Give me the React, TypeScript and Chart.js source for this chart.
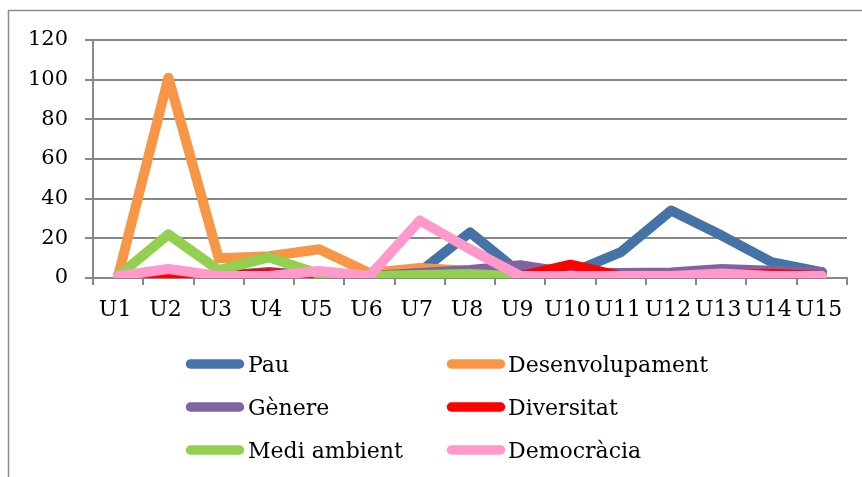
import React, { useEffect, useRef } from 'react';
import { Chart, registerables } from 'chart.js';

Chart.register(...registerables);

// ---- data ----
const categories = ['U1', 'U2', 'U3', 'U4', 'U5', 'U6', 'U7', 'U8', 'U9', 'U10', 'U11', 'U12', 'U13', 'U14', 'U15'];
const seriesNames = ['Pau', 'Desenvolupament', 'Gènere', 'Diversitat', 'Medi ambient', 'Democràcia'];
const pau = [1, 1, 1, 3, 1, 1, 3, 23, 2.5, 2.5, 13, 34, 21.5, 8, 3];
const desenvolupament = [1, 101, 10, 11, 14.5, 2.5, 5, 3.5, 1, 1, 1, 1, 1, 1, 1];
const genere = [1, 1, 1, 1, 1, 1, 2.5, 4, 6.5, 2.5, 2.5, 2.8, 4.6, 3.6, 3];
const diversitat = [1, 1.5, 1, 2.4, 1, 1, 1, 1, 1, 6.7, 1, 1, 1.5, 2, 1];
const mediAmbient = [1, 22, 4, 10.4, 2, 1, 1.5, 2, 0.8, 1, 1, 1, 1, 1, 1];
const democracia = [1, 4.5, 1, 1, 3.5, 1, 29, 14.5, 1, 1, 1, 1, 2.3, 1, 1];
const seriesValues = [pau, desenvolupament, genere, diversitat, mediAmbient, democracia];
const seriesColors = ['#4572A7', '#F79646', '#8064A2', '#FF0000', '#92D050', '#FF99CC'];
const yMin = 0;
const yMax = 120;
const yStep = 20;

// ---- styles ----
const FONT_FAMILY = '"DejaVu Serif", Georgia, serif';
const GRID = '#878787';

const framePlugin = {
  id: 'frame',
  beforeDraw(chart: any) {
    const { ctx, width, height } = chart;
    ctx.save();
    ctx.fillStyle = '#ffffff';
    ctx.fillRect(0, 0, width, height);
    ctx.strokeStyle = '#8c8c8c';
    ctx.lineWidth = 1.5;
    ctx.beginPath();
    ctx.moveTo(8.5, height + 2);
    ctx.lineTo(8.5, 10.5);
    ctx.lineTo(width + 2, 10.5);
    ctx.stroke();
    ctx.restore();
  },
};

const gridLegendPlugin = {
  id: 'gridLegend',
  afterDraw(chart: any) {
    const { ctx } = chart;
    const colLine = [190.5, 451.5];
    const colText = [248, 508];
    const rowLine = [364, 407, 450];
    const rowBase = [371.5, 414.5, 458];
    ctx.save();
    ctx.font = `22px ${FONT_FAMILY}`;
    ctx.textBaseline = 'alphabetic';
    ctx.textAlign = 'left';
    chart.data.datasets.forEach((ds: any, i: number) => {
      const col = i % 2;
      const row = Math.floor(i / 2);
      ctx.strokeStyle = ds.borderColor;
      ctx.lineWidth = 9.5;
      ctx.lineCap = 'round';
      ctx.beginPath();
      ctx.moveTo(colLine[col], rowLine[row]);
      ctx.lineTo(colLine[col] + 49, rowLine[row]);
      ctx.stroke();
      ctx.fillStyle = '#000000';
      ctx.fillText(ds.label, colText[col], rowBase[row]);
    });
    ctx.restore();
  },
};

export default function App() {
  const canvasRef = useRef<HTMLCanvasElement | null>(null);

  useEffect(() => {
    const canvas = canvasRef.current;
    if (!canvas) return;
    const chart = new Chart(canvas, {
      type: 'line',
      data: {
        labels: categories,
        datasets: seriesNames.map((name, i) => ({
          label: name,
          data: seriesValues[i],
          borderColor: seriesColors[i],
          backgroundColor: seriesColors[i],
          borderWidth: 10,
          borderCapStyle: 'round',
          borderJoinStyle: 'round',
          pointRadius: 0,
          pointHoverRadius: 0,
          tension: 0,
          fill: false,
          order: seriesNames.length - 1 - i,
        })),
      },
      options: {
        responsive: false,
        animation: false,
        events: [],
        layout: { padding: { left: 0, top: 40, right: 15, bottom: 0 } },
        plugins: {
          legend: { display: false },
          tooltip: { enabled: false },
          title: { display: false },
        },
        scales: {
          x: {
            type: 'category',
            offset: true,
            grid: {
              offset: true,
              drawOnChartArea: false,
              drawTicks: true,
              tickLength: 7,
              color: GRID,
              lineWidth: 2,
            },
            border: { display: true, color: GRID, width: 2 },
            ticks: {
              color: '#000000',
              font: { family: FONT_FAMILY, size: 22 },
              padding: 12,
              autoSkip: false,
              maxRotation: 0,
              minRotation: 0,
              labelOffset: -3,
            },
            afterFit(scale: any) {
              scale.height = 199;
            },
          },
          y: {
            min: yMin,
            max: yMax,
            ticks: {
              stepSize: yStep,
              color: '#000000',
              font: { family: FONT_FAMILY, size: 21 },
              padding: 17,
            },
            grid: {
              color: GRID,
              lineWidth: 2,
              drawTicks: true,
              tickLength: 8,
            },
            border: { display: true, color: GRID, width: 2 },
            afterFit(scale: any) {
              scale.width = 93;
            },
          },
        },
      },
      plugins: [framePlugin, gridLegendPlugin],
    } as any);
    return () => chart.destroy();
  }, []);

  return (
    <div style={{ position: 'fixed', left: 0, top: 0, width: 862, height: 477, background: '#fff' }}>
      <canvas ref={canvasRef} width={862} height={477} style={{ display: 'block', width: 862, height: 477 }} />
    </div>
  );
}
